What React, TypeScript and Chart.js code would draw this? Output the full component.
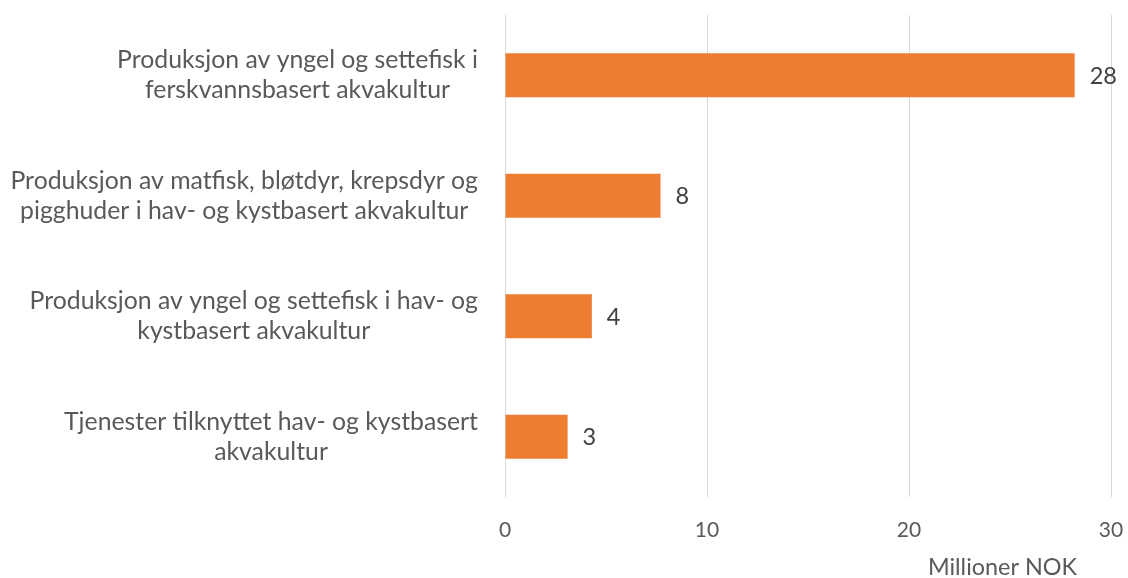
import React, { useEffect, useRef } from "react";
import { Chart, registerables } from "chart.js";

Chart.register(...registerables);

const categories: string[][] = [
  ["Produksjon av yngel og settefisk i", "ferskvannsbasert akvakultur"],
  ["Produksjon av matfisk, bløtdyr, krepsdyr og", "pigghuder i hav- og kystbasert akvakultur"],
  ["Produksjon av yngel og settefisk i hav- og", "kystbasert akvakultur"],
  ["Tjenester tilknyttet hav- og kystbasert", "akvakultur"],
];
const values: number[] = [28.2, 7.7, 4.3, 3.1];
const xMin = 0;
const xMax = 30;
const xStep = 10;
const axisTitle = "Millioner NOK";

const FONT = "Lato, 'Open Sans', sans-serif";
const TEXT = "#595959";

export default function App() {
  const ref = useRef<HTMLCanvasElement | null>(null);

  useEffect(() => {
    document.body.style.margin = "0";
    if (!ref.current) return;
    const labelPlugin = {
      id: "customLabels",
      afterDraw(chart: any) {
        const ctx = chart.ctx;
        const y = chart.scales.y;
        const x = chart.scales.x;
        ctx.save();
        // category labels: block right-aligned, lines centered
        ctx.font = `24.8px ${FONT}`;
        ctx.fillStyle = TEXT;
        ctx.textBaseline = "middle";
        ctx.textAlign = "center";
        const rightEdge = chart.chartArea.left - 27;
        categories.forEach((lines, i) => {
          const cy = y.getPixelForValue(i);
          const w = Math.max(...lines.map((l) => ctx.measureText(l).width));
          const cx = rightEdge - w / 2;
          lines.forEach((l, j) => {
            ctx.fillText(l, cx, cy + (j - (lines.length - 1) / 2) * 30);
          });
        });
        // value labels
        ctx.font = `23.5px ${FONT}`;
        ctx.fillStyle = "#404040";
        ctx.textAlign = "left";
        const meta = chart.getDatasetMeta(0);
        meta.data.forEach((bar: any, i: number) => {
          ctx.fillText(String(Math.round(values[i])), bar.x + 15, bar.y + 1);
        });
        // axis title
        ctx.font = `23.4px ${FONT}`;
        ctx.fillStyle = TEXT;
        ctx.textAlign = "right";
        ctx.fillText(axisTitle, x.right - 34, 567);
        ctx.restore();
      },
    };

    const chart = new Chart(ref.current, {
      type: "bar",
      data: {
        labels: categories.map((c) => c.join(" ")),
        datasets: [
          {
            data: values,
            backgroundColor: "#ED7D31",
            borderWidth: 0,
            barPercentage: 0.365,
            categoryPercentage: 1,
          },
        ],
      },
      options: {
        indexAxis: "y",
        animation: false,
        responsive: true,
        maintainAspectRatio: false,
        layout: { padding: { top: 15, right: 17, bottom: 0, left: 0 } },
        plugins: {
          legend: { display: false },
          tooltip: { enabled: false },
        },
        scales: {
          x: {
            min: xMin,
            max: xMax,
            ticks: {
              stepSize: xStep,
              padding: 21,
              color: TEXT,
              font: { family: FONT, size: 21 },
            },
            grid: { color: "#D9D9D9", lineWidth: 1, drawTicks: false },
            border: { display: false },
            afterFit: (s: any) => {
              s.height = 81;
              s.paddingRight = 17;
              s.paddingLeft = 0;
            },
          },
          y: {
            ticks: { display: false },
            grid: { display: false },
            border: { display: false },
            afterFit: (s: any) => {
              s.width = 505;
            },
          },
        },
      },
      plugins: [labelPlugin],
    });
    return () => chart.destroy();
  }, []);

  return (
    <div style={{ width: 1128, height: 578 }}>
      <canvas ref={ref} />
    </div>
  );
}
